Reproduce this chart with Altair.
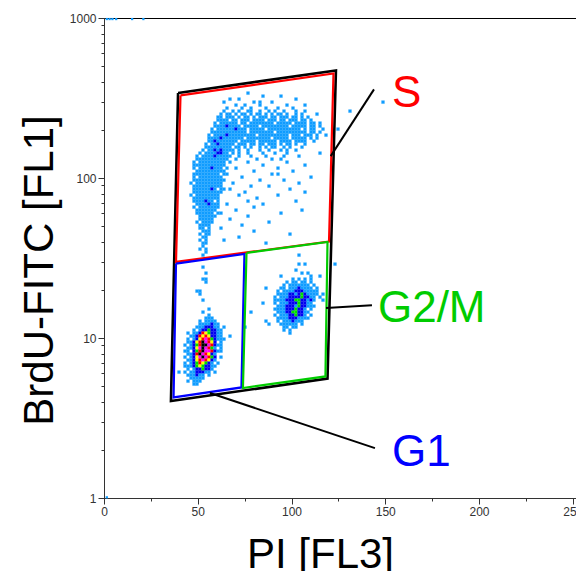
import altair as alt
import pandas as pd

# ---------------- data ----------------
# density bins: (row, first column, pattern); each char is a density level 1..7, space = empty
density_runs = [
    (0, 25, "1"),
    (1, 30, "1"), (1, 36, "1"),
    (2, 19, "1"), (2, 22, "1"), (2, 41, "1"),
    (3, 17, "1"), (3, 27, "1 1"), (3, 33, "1"), (3, 70, "1"),
    (4, 21, "1  1    1"), (4, 38, "1"), (4, 44, "1"),
    (5, 18, "1    1  1    1   1    1"),
    (6, 17, "1  1 1  11  1  1 1  1   1  1"), (6, 59, "1"),
    (7, 16, "1 11 1 11 1 11 1 1 11 1  1 1"), (7, 48, "1"),
    (8, 15, "11 111 1 11 1 111 11 111 11 1 1"),
    (9, 15, "1111 11 111 1111 111 11 111 11 1"),
    (10, 14, "1 111111 11 11111111 11111 1111 11 1"),
    (11, 14, "111121111 11111 111111111 11111 11 1"),
    (12, 13, "1 1111112111 11111 11111111111 1 11  1"), (12, 55, "1"),
    (13, 13, "111111111111 11111111 1111111111 11 1"),
    (14, 12, "1 11112111111111 1111111111 111 111 1  1"),
    (15, 12, "111121111111 11111111 11111 11111 1 1"),
    (16, 12, "1121111111 11111 111111 1111 1111  1"),
    (17, 11, "1 11211111 111 11 11 111 1 11 1  1"),
    (18, 11, "111111111 11 1 1  1 1 11  1 1   1"),
    (19, 10, "1 112121111 1  1   1  1   1 1  1"),
    (20, 9, "1 11112211 1 1  1    1   1   1"), (20, 49, "1"),
    (21, 8, "1 1111211111  1   1    1     1    1"),
    (22, 8, "11111111111  1      1    1  1"),
    (23, 7, "1 111111111 1"), (23, 25, "1"), (23, 38, "1"),
    (24, 7, "11111111111"), (24, 30, "1"), (24, 44, "1"),
    (25, 7, "1 11112111 1"), (25, 21, "1"), (25, 35, "1"),
    (26, 8, "1111111111"), (26, 27, "1"), (26, 40, "1"),
    (27, 7, "111111111 1"), (27, 18, "1"), (27, 33, "1 1"),
    (28, 7, "1 11111111"), (28, 23, "1"), (28, 46, "1"),
    (29, 7, "11111111111"), (29, 29, "1"), (29, 37, "1"),
    (30, 6, "1 111111111"), (30, 20, "1"), (30, 42, "1"),
    (31, 7, "1111111111"), (31, 26, "1"), (31, 32, "1"),
    (32, 7, "11111121 1"), (32, 17, "1"), (32, 19, "1"), (32, 39, "1"),
    (33, 7, "1111111111"), (33, 24, "1"), (33, 44, "1"),
    (34, 6, "1 11111111"), (34, 22, "1"), (34, 35, "1"),
    (35, 7, "111111111"), (35, 28, "1"),
    (36, 7, "1111211 1"), (36, 25, "1"), (36, 41, "1"),
    (37, 8, "11112111"), (37, 18, "1"), (37, 30, "1"),
    (38, 7, "1 1111111"), (38, 27, "1"),
    (39, 8, "1111111"), (39, 21, "1"), (39, 43, "1"),
    (40, 8, "111111 1"), (40, 16, "1"), (40, 36, "1"),
    (41, 9, "111111"), (41, 25, "1"),
    (42, 9, "11111"), (42, 19, "1"),
    (43, 8, "1 1111"), (43, 32, "1"),
    (44, 9, "1111"), (44, 23, "1"),
    (45, 9, "11 1"), (45, 16, "1"),
    (46, 10, "111"), (46, 27, "1"),
    (47, 9, "1 11"), (47, 39, "1"),
    (48, 10, "11"), (48, 22, "1"),
    (49, 9, "1 1"), (49, 17, "1"),
    (50, 10, "11"), (50, 31, "1"),
    (51, 10, "1"),
    (52, 9, "1 1"),
    (53, 11, "1"),
    (54, 10, "1"), (54, 42, "1"),
    (57, 42, "1 1"), (57, 54, "1"),
    (58, 10, "1"),
    (59, 41, "1"),
    (60, 11, "1"), (60, 43, "1 1"),
    (61, 36, "1"), (61, 46, "1  1"),
    (62, 10, "11"), (62, 40, "1 1 1 1"),
    (63, 11, "1"), (63, 38, "1 11 11 1"),
    (64, 37, "1 1111111 1"),
    (65, 31, "1"), (65, 36, "11 11121111 1"),
    (66, 8, "11"), (66, 35, "1 111122211111"),
    (67, 9, "1"), (67, 35, "11112212321111"), (67, 50, "1"),
    (68, 34, "1 111222232211 1"),
    (69, 10, "1"), (69, 34, "11112223322121"), (69, 50, "1"),
    (70, 30, "1"), (70, 34, "1 11122232211"),
    (71, 35, "1112221322111"),
    (72, 12, "1"), (72, 34, "11112223221 1"),
    (73, 10, "1"), (73, 26, "1"), (73, 35, "11122332211"),
    (74, 12, "1"), (74, 34, "1 111223221 1"),
    (75, 11, "111"), (75, 35, "11112221111"),
    (76, 9, "1 1111"), (76, 31, "1"), (76, 35, "1 1112111"),
    (77, 9, "1111211"), (77, 32, "1"), (77, 36, "111111 1"),
    (78, 8, "11122211 1"), (78, 24, "1"), (78, 37, "11 11"),
    (79, 7, "1 12232211"), (79, 37, "1 1"),
    (80, 5, "1 1125432211"), (80, 39, "1"),
    (81, 6, "11254542211"), (81, 19, "1"),
    (82, 5, "1 12456532111"),
    (83, 5, "1124576542 1"),
    (84, 4, "1 12357765211"),
    (85, 5, "1124676531 1"),
    (86, 4, "11 2357665211"),
    (87, 5, "1125765421"),
    (88, 4, "1 124676532 1"),
    (89, 5, "1124565421"),
    (90, 4, "1 12354321 1"),
    (91, 4, "11123432211"),
    (92, 5, "1 1223221"),
    (93, 2, "1 1 1122211 1"),
    (94, 5, "111211 1"),
    (95, 6, "11111"),
    (96, 5, "1 111"),
    (97, 7, "11"),
]

# events piled on the axis limits
edge_x = [1.5, 3.0, 4.5, 6.5, 15.0, 21.0, 1.5]
edge_y = [985, 985, 985, 985, 985, 985, 1.01]

# gates (polygon vertices, PI channel / BrdU-FITC value)
gate_names = ["outer", "S", "G1", "G2/M"]
gate_x = {
    "outer": [39.5, 123.7, 119.2, 35.7],
    "S": [40.8, 122.4, 120.0, 38.4],
    "G1": [38.4, 74.9, 73.3, 37.1],
    "G2/M": [76.0, 119.2, 118.1, 74.1],
}
gate_y = {
    "outer": [340, 470, 5.58, 4.04],
    "S": [328, 450, 40.1, 29.9],
    "G1": [29.2, 33.5, 4.91, 4.25],
    "G2/M": [34.0, 39.8, 5.75, 4.87],
}

# leader lines and labels
label_text = ["S", "G2/M", "G1"]
leader_x = {"S": [120.9, 144.0], "G2/M": [118.4, 142.9], "G1": [56.5, 144.5]}
leader_y = {"S": [137, 358], "G2/M": [15.4, 16.0], "G1": [4.53, 2.05]}
label_x = [153.6, 146.1, 153.6]
label_y = [278, 12.6, 1.585]

x_major = [0, 50, 100, 150, 200, 250]
x_minor = [25, 75, 125, 175, 225]
y_major = [1, 10, 100, 1000]
y_minor = [2, 3, 4, 5, 6, 7, 8, 9, 20, 30, 40, 50, 60, 70, 80, 90,
           200, 300, 400, 500, 600, 700, 800, 900]

# ---------------- binning of the density grid ----------------
X0, DX = 36.0, 1.6          # PI channel of column 0, channels per column
LOG_TOP, DLOG = 2.54, 0.01875  # log10 of top of row 0, decades per row

recs = []
for r, c, pat in density_runs:
    for k, ch in enumerate(pat):
        if ch != " ":
            j = c + k
            x = X0 + j * DX
            top = LOG_TOP - r * DLOG
            recs.append({"x": x, "x2": x + DX,
                         "y": 10 ** (top - DLOG), "y2": 10 ** top,
                         "level": int(ch)})
dens = pd.DataFrame(recs)

edges = pd.DataFrame({"x": edge_x, "y": edge_y})

gate_rows = []
for g in gate_names:
    xs, ys = gate_x[g], gate_y[g]
    for k in range(len(xs) + 1):
        gate_rows.append({"gate": g, "k": k, "x": xs[k % len(xs)], "y": ys[k % len(ys)]})
gates = pd.DataFrame(gate_rows)

lead_rows = []
for g in label_text:
    for k in range(2):
        lead_rows.append({"gate": g, "k": k, "x": leader_x[g][k], "y": leader_y[g][k]})
leads = pd.DataFrame(lead_rows)

labels = pd.DataFrame({"text": label_text, "x": label_x, "y": label_y})

# ---------------- styling ----------------
FONT = "Liberation Sans"
level_colors = ["#109CFF", "#0000F0", "#00E000", "#FFFF00", "#FF0000", "#FF00FF", "#000000"]
gate_colors = {"outer": "black", "S": "#FF0000", "G1": "#0000FF", "G2/M": "#00CC00"}
label_colors = {"S": "#FF0000", "G2/M": "#00CC00", "G1": "#0000FF"}

xs_ = alt.Scale(domain=[0, 256], nice=False, zero=False)
ys_ = alt.Scale(type="log", domain=[1, 1000], nice=False)

x_axis = alt.Axis(values=x_major, orient="bottom", title="PI [FL3]", titleFont=FONT,
                  titleFontSize=42, titleFontWeight="normal", titleColor="black",
                  titleX=216, titleY=69, titleBaseline="alphabetic", titleAlign="center",
                  labelFont=FONT, labelFontSize=12, labelColor="#333333", labelPadding=2,
                  labelFlush=False, tickSize=6, tickColor="#333333", domainColor="#333333",
                  grid=False, format="d")
y_axis = alt.Axis(values=y_major, orient="left", title="BrdU-FITC [FL1]", titleFont=FONT,
                  titleFontSize=42, titleFontWeight="normal", titleColor="black",
                  titleX=-52, titleY=252, titleAngle=270, titleBaseline="alphabetic",
                  titleAlign="center",
                  labelFont=FONT, labelFontSize=12, labelColor="#333333", labelPadding=2,
                  labelFlush=False, tickSize=6, tickColor="#333333", domainColor="#333333",
                  grid=False, format="d")
x_minor_axis = alt.Axis(values=x_minor, orient="bottom", title="", labels=False, domain=False,
                        tickSize=3, tickColor="#333333", grid=False)
y_minor_axis = alt.Axis(values=y_minor, orient="left", title="", labels=False, domain=False,
                        tickSize=3, tickColor="#333333", grid=False)

color_scale = alt.Scale(domain=list(range(1, 8)), range=level_colors)

density = alt.Chart(dens).mark_rect(strokeWidth=0.2).encode(
    x=alt.X("x:Q", scale=xs_, axis=x_axis),
    x2="x2:Q",
    y=alt.Y("y:Q", scale=ys_, axis=y_axis),
    y2="y2:Q",
    color=alt.Color("level:O", scale=color_scale, legend=None),
    stroke=alt.Stroke("level:O", scale=color_scale, legend=None),
)

edge_layer = alt.Chart(edges).mark_square(size=5, color=level_colors[0], opacity=1).encode(
    x=alt.X("x:Q", scale=xs_, axis=None),
    y=alt.Y("y:Q", scale=ys_, axis=None),
)

layers = [density, edge_layer]

for i, g in enumerate(gate_names):
    axes = {"x": x_minor_axis, "y": y_minor_axis} if i == 0 else {"x": None, "y": None}
    layers.append(
        alt.Chart(gates[gates.gate == g]).mark_line(
            color=gate_colors[g], strokeWidth=2.6 if g == "outer" else 2.2,
            strokeJoin="miter", interpolate="linear"
        ).encode(
            x=alt.X("x:Q", scale=xs_, axis=axes["x"]),
            y=alt.Y("y:Q", scale=ys_, axis=axes["y"]),
            order="k:Q",
        )
    )

layers.append(
    alt.Chart(leads).mark_line(color="black", strokeWidth=2).encode(
        x=alt.X("x:Q", scale=xs_, axis=None),
        y=alt.Y("y:Q", scale=ys_, axis=None),
        detail="gate:N",
        order="k:Q",
    )
)

for t in label_text:
    layers.append(
        alt.Chart(labels[labels.text == t]).mark_text(
            font=FONT, fontSize=44, align="left", baseline="alphabetic",
            color=label_colors[t]
        ).encode(
            x=alt.X("x:Q", scale=xs_, axis=None),
            y=alt.Y("y:Q", scale=ys_, axis=None),
            text="text:N",
        )
    )

chart = alt.layer(*layers).resolve_axis(
    x="independent", y="independent"
).resolve_scale(
    color="independent", stroke="independent"
).properties(
    width=480, height=480,
    autosize=alt.AutoSizeParams(type="none"),
    padding={"left": 104, "top": 18, "right": -8, "bottom": 73},
    background="white",
).configure_view(stroke="black", strokeWidth=1)

chart.save("out.html", embed_options={"renderer": "svg", "actions": False})
